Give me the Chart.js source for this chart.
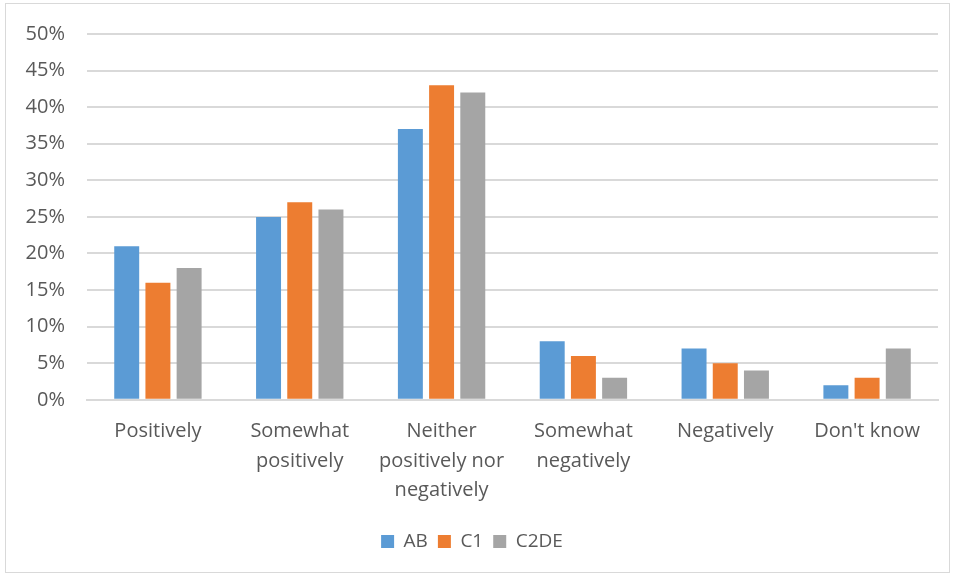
<!DOCTYPE html>
<html lang="en">
<head>
    <meta charset="UTF-8">
    <title>Chart</title>
    <script src="https://cdn.jsdelivr.net/npm/chart.js"></script>
    <style>
        body {
            margin: 0;
            background: white;
        }
        .chart-box {
            position: absolute;
            left: 5px;
            top: 3px;
            width: 945px;
            height: 570px;
            border: 1px solid #d9d9d9;
            box-sizing: border-box;
        }
    </style>
</head>
<body>
    <div class="chart-box">
        <canvas id="barChart"></canvas>
    </div>

    <script>
        const categories = [
            'Positively',
            ['Somewhat', 'positively'],
            ['Neither', 'positively nor', 'negatively'],
            ['Somewhat', 'negatively'],
            'Negatively',
            "Don't know"
        ];
        const abValues = [21, 25, 37, 8, 7, 2];
        const c1Values = [16, 27, 43, 6, 5, 3];
        const c2deValues = [18, 26, 42, 3, 4, 7];
        const seriesNames = ['AB', 'C1', 'C2DE'];

        const textColor = '#595959';
        const gridColor = '#d9d9d9';
        const fontFamily = "'Open Sans', 'Liberation Sans', sans-serif";

        const ctx = document.getElementById('barChart').getContext('2d');
        new Chart(ctx, {
            type: 'bar',
            data: {
                labels: categories,
                datasets: [
                    { label: seriesNames[0], data: abValues, backgroundColor: '#5b9bd5' },
                    { label: seriesNames[1], data: c1Values, backgroundColor: '#ed7d31' },
                    { label: seriesNames[2], data: c2deValues, backgroundColor: '#a5a5a5' }
                ]
            },
            options: {
                responsive: true,
                maintainAspectRatio: false,
                animation: false,
                categoryPercentage: 0.66,
                barPercentage: 0.8,
                layout: {
                    padding: { left: 0, right: 11, top: 30, bottom: 11 }
                },
                plugins: {
                    legend: {
                        position: 'bottom',
                        labels: {
                            color: textColor,
                            font: { size: 19, family: fontFamily },
                            boxWidth: 13,
                            boxHeight: 13,
                            padding: 10
                        }
                    },
                    tooltip: { enabled: false }
                },
                scales: {
                    x: {
                        grid: { display: false, drawTicks: false },
                        border: { color: gridColor, width: 2 },
                        ticks: {
                            color: textColor,
                            font: { size: 20, family: fontFamily, lineHeight: 1.47 },
                            padding: 17,
                            maxRotation: 0,
                            autoSkip: false
                        }
                    },
                    y: {
                        min: 0,
                        max: 50,
                        afterFit: (scale) => {
                            scale.width = 81;
                            scale.paddingTop = 0;
                            scale.paddingBottom = 0;
                        },
                        grid: { color: gridColor, lineWidth: 2, drawTicks: false },
                        border: { display: false },
                        ticks: {
                            stepSize: 5,
                            color: textColor,
                            font: { size: 20, family: fontFamily },
                            padding: 22,
                            callback: (v) => v + '%'
                        }
                    }
                }
            }
        });
    </script>
</body>
</html>
